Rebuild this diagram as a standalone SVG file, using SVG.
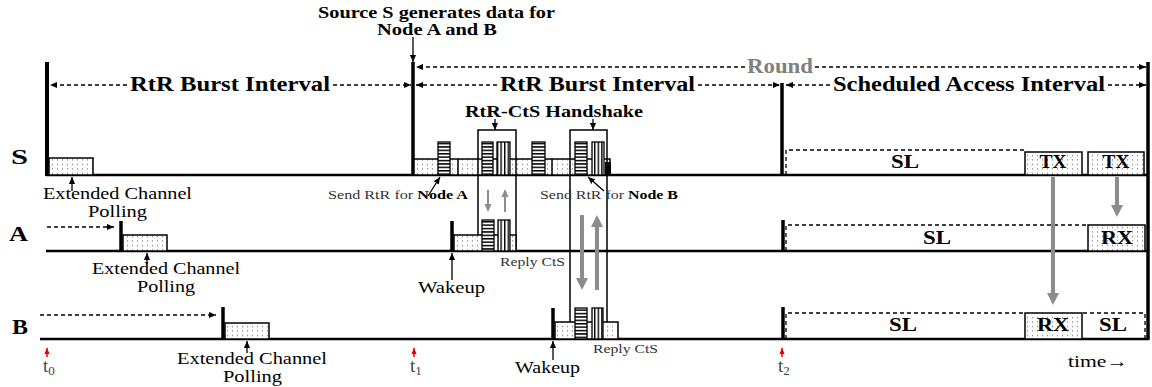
<svg xmlns="http://www.w3.org/2000/svg" width="1152" height="387" viewBox="0 0 1152 387">
<style>
text{font-family:"Liberation Serif","Times New Roman",serif;fill:#000}
.b{font-weight:bold}
.lbl{font-weight:bold;font-size:20px}
.big{font-weight:bold;font-size:20px}
.mid{font-size:17px}
.sm{font-size:13px;fill:#333}
.box{font-weight:bold;font-size:18px;text-anchor:middle}
.tt{font-size:19px;fill:#444}
.base{stroke:#000;stroke-width:2.5;fill:none}
.thick{stroke:#000;stroke-width:3.5;fill:none}
.dot{fill:url(#dots);stroke:#000;stroke-width:1.5}
.hs{fill:url(#hs);stroke:#000;stroke-width:1.3}
.vs{fill:url(#vs);stroke:#000;stroke-width:1.3}
.dash{stroke:#000;stroke-width:1.3;stroke-dasharray:4 3;fill:none}
.hb{stroke:#000;stroke-width:1.5;fill:none}
.ptr{stroke:#000;stroke-width:1.3;fill:none;marker-end:url(#ah)}
.iv{stroke:#000;stroke-width:1.3;stroke-dasharray:4 3;fill:none}
.red{stroke:#e00;stroke-width:1.5;fill:none;marker-end:url(#rh)}
.g1{stroke:#8c8c8c;stroke-width:2;fill:none;marker-end:url(#gs)}
.g2{stroke:#8c8c8c;stroke-width:4;fill:none;marker-end:url(#gb)}
</style>
<defs>
<pattern id="dots" width="5" height="4.5" patternUnits="userSpaceOnUse"><rect width="5" height="4.5" fill="#fff"/><rect x="2" y="2" width="1" height="1" fill="#555"/></pattern>
<pattern id="hs" width="4" height="3.4" patternUnits="userSpaceOnUse"><rect width="4" height="3.4" fill="#fff"/><rect width="4" height="1.5" fill="#000"/></pattern>
<pattern id="vs" width="3.6" height="4" patternUnits="userSpaceOnUse"><rect width="3.6" height="4" fill="#fff"/><rect width="1.4" height="4" fill="#000"/></pattern>
<marker id="ah" viewBox="0 0 8 8" refX="8" refY="4" markerWidth="7" markerHeight="7" markerUnits="userSpaceOnUse" orient="auto-start-reverse"><path d="M0,0.5 L8,4 L0,7.5 z" fill="#000"/></marker>
<marker id="rh" viewBox="0 0 8 8" refX="8" refY="4" markerWidth="6" markerHeight="6" markerUnits="userSpaceOnUse" orient="auto"><path d="M0,0.5 L8,4 L0,7.5 z" fill="#e00"/></marker>
<marker id="gs" viewBox="0 0 8 8" refX="1" refY="4" markerWidth="8" markerHeight="8" markerUnits="userSpaceOnUse" orient="auto"><path d="M0,0.5 L8,4 L0,7.5 z" fill="#8c8c8c"/></marker>
<marker id="gb" viewBox="0 0 12 12" refX="1" refY="6" markerWidth="12" markerHeight="12" markerUnits="userSpaceOnUse" orient="auto"><path d="M0,0 L12,6 L0,12 z" fill="#8c8c8c"/></marker>
</defs>
<rect width="1152" height="387" fill="#fff"/>

<g id="header">
<text class="b" x="318" y="18" font-size="17" textLength="237" lengthAdjust="spacingAndGlyphs">Source S generates data for</text>
<text class="b" x="377" y="35" font-size="17" textLength="120" lengthAdjust="spacingAndGlyphs">Node A and B</text>
<text class="big" x="130" y="91" textLength="200" lengthAdjust="spacingAndGlyphs">RtR Burst Interval</text>
<text class="big" x="500" y="91" textLength="195" lengthAdjust="spacingAndGlyphs">RtR Burst Interval</text>
<text class="big" x="747" y="73" style="fill:#808080" textLength="66" lengthAdjust="spacingAndGlyphs">Round</text>
<text class="big" x="833" y="91" textLength="272" lengthAdjust="spacingAndGlyphs">Scheduled Access Interval</text>
<text class="b" x="465" y="117" font-size="17" textLength="178" lengthAdjust="spacingAndGlyphs">RtR-CtS Handshake</text>
</g>

<g id="row-labels">
<text class="lbl" x="11" y="164" textLength="17" lengthAdjust="spacingAndGlyphs">S</text>
<text class="lbl" x="9" y="241" textLength="19" lengthAdjust="spacingAndGlyphs">A</text>
<text class="lbl" x="12" y="334" textLength="16" lengthAdjust="spacingAndGlyphs">B</text>
</g>

<g id="node-S">
<line class="base" x1="46" y1="175" x2="1149" y2="175"/>
<line x1="47" y1="62" x2="47" y2="176" stroke="#000" stroke-width="4"/>
<rect class="dot" x="49" y="158" width="44" height="17"/>
<line class="thick" x1="413" y1="62" x2="413" y2="175"/>
<rect class="dot" x="414" y="159" width="196" height="16"/>
<line class="hb" x1="458" y1="159" x2="458" y2="175"/>
<line class="hb" x1="552" y1="159" x2="552" y2="175"/>
<rect class="hs" x="438" y="142" width="12" height="33"/>
<rect class="hs" x="482" y="142" width="11" height="33"/>
<rect class="vs" x="497" y="142" width="13" height="33"/>
<rect class="hs" x="532" y="142" width="13" height="33"/>
<rect class="hs" x="575" y="142" width="12" height="33"/>
<rect class="vs" x="592" y="142" width="12" height="33"/>
<rect x="605" y="162" width="6" height="13" fill="#000"/>
<line class="thick" x1="782" y1="83" x2="782" y2="175"/>
<path class="dash" d="M786,175 V150 H1024"/>
<rect class="dot" x="1025" y="152" width="57" height="23" stroke-width="2.5"/>
<rect class="dot" x="1088" y="152" width="56" height="23" stroke-width="2"/>
<text class="box" x="905" y="168" textLength="28" lengthAdjust="spacingAndGlyphs">SL</text>
<text class="box" x="1053" y="168" textLength="27" lengthAdjust="spacingAndGlyphs">TX</text>
<text class="box" x="1116" y="168" textLength="27" lengthAdjust="spacingAndGlyphs">TX</text>
<line class="thick" x1="1148" y1="62" x2="1148" y2="340"/>
</g>

<g id="handshake-boxes">
<path class="hb" d="M478,251 V130 H516 V251"/>
<path class="hb" d="M570,339 V130 H607 V339"/>
</g>

<g id="node-A">
<line class="base" x1="46" y1="251" x2="1149" y2="251"/>
<line class="thick" x1="121" y1="221" x2="121" y2="251"/>
<rect class="dot" x="123" y="235" width="44" height="16"/>
<line class="thick" x1="452" y1="221" x2="452" y2="251"/>
<rect class="dot" x="454" y="235" width="62" height="16"/>
<rect class="hs" x="482" y="220" width="12" height="31"/>
<rect class="vs" x="498" y="220" width="12" height="31"/>
<line class="thick" x1="783" y1="220" x2="783" y2="251"/>
<path class="dash" d="M786,251 V225 H1088"/>
<rect class="dot" x="1088" y="225" width="57" height="26"/>
<text class="box" x="937" y="244" textLength="28" lengthAdjust="spacingAndGlyphs">SL</text>
<text class="box" x="1117" y="244" textLength="32" lengthAdjust="spacingAndGlyphs">RX</text>
</g>

<g id="node-B">
<line class="base" x1="40" y1="339" x2="1149" y2="339"/>
<line class="thick" x1="223" y1="307" x2="223" y2="339"/>
<rect class="dot" x="225" y="323" width="44" height="16"/>
<line class="thick" x1="553" y1="308" x2="553" y2="339"/>
<rect class="dot" x="555" y="322" width="63" height="17"/>
<rect class="hs" x="575" y="308" width="12" height="31"/>
<rect class="vs" x="592" y="308" width="11" height="31"/>
<line class="thick" x1="783" y1="307" x2="783" y2="339"/>
<path class="dash" d="M786,339 V313 H1025"/>
<rect class="dot" x="1025" y="313" width="57" height="26" stroke-width="2.5"/>
<path class="dash" d="M1083,313 H1145 V339"/>
<text class="box" x="903" y="331" textLength="28" lengthAdjust="spacingAndGlyphs">SL</text>
<text class="box" x="1053" y="331" textLength="32" lengthAdjust="spacingAndGlyphs">RX</text>
<text class="box" x="1113" y="331" textLength="28" lengthAdjust="spacingAndGlyphs">SL</text>
</g>

<g id="annotations">
<text class="mid" x="43" y="199" textLength="149" lengthAdjust="spacingAndGlyphs">Extended Channel</text>
<text class="mid" x="88" y="217" textLength="59" lengthAdjust="spacingAndGlyphs">Polling</text>
<text class="mid" x="92" y="274" textLength="148" lengthAdjust="spacingAndGlyphs">Extended Channel</text>
<text class="mid" x="137" y="292" textLength="58" lengthAdjust="spacingAndGlyphs">Polling</text>
<text class="mid" x="177" y="364" textLength="150" lengthAdjust="spacingAndGlyphs">Extended Channel</text>
<text class="mid" x="223" y="382" textLength="59" lengthAdjust="spacingAndGlyphs">Polling</text>
<text class="sm" x="328" y="199" textLength="140" lengthAdjust="spacingAndGlyphs">Send RtR for <tspan font-weight="bold" fill="#000">Node A</tspan></text>
<text class="sm" x="540" y="199" textLength="138" lengthAdjust="spacingAndGlyphs">Send RtR for <tspan font-weight="bold" fill="#000">Node B</tspan></text>
<text class="sm" x="500" y="266" textLength="65" lengthAdjust="spacingAndGlyphs">Reply CtS</text>
<text class="sm" x="593" y="353" textLength="65" lengthAdjust="spacingAndGlyphs">Reply CtS</text>
<text class="mid" x="418" y="293" textLength="67" lengthAdjust="spacingAndGlyphs">Wakeup</text>
<text class="mid" x="515" y="373" textLength="65" lengthAdjust="spacingAndGlyphs">Wakeup</text>
<text class="tt" x="43" y="372">t<tspan font-size="13" dy="3">0</tspan></text>
<text class="tt" x="410" y="372">t<tspan font-size="13" dy="3">1</tspan></text>
<text class="tt" x="778" y="372">t<tspan font-size="13" dy="3">2</tspan></text>
<text class="mid" x="1068" y="367" textLength="60" lengthAdjust="spacingAndGlyphs">time→</text>
</g>

<g id="connectors">
<line class="iv" x1="127" y1="85" x2="50" y2="85" marker-end="url(#ah)"/>
<line class="iv" x1="333" y1="85" x2="411" y2="85" marker-end="url(#ah)"/>
<line class="iv" x1="497" y1="85" x2="416" y2="85" marker-end="url(#ah)"/>
<line class="iv" x1="698" y1="85" x2="780" y2="85" marker-end="url(#ah)"/>
<line class="iv" x1="830" y1="85" x2="786" y2="85" marker-end="url(#ah)"/>
<line class="iv" x1="1108" y1="85" x2="1146" y2="85" marker-end="url(#ah)"/>
<line class="iv" x1="745" y1="67" x2="416" y2="67" marker-end="url(#ah)"/>
<line class="iv" x1="815" y1="67" x2="1146" y2="67" marker-end="url(#ah)"/>
<line class="iv" x1="47" y1="227" x2="114" y2="227" marker-end="url(#ah)"/>
<line class="iv" x1="40" y1="315" x2="216" y2="315" marker-end="url(#ah)"/>
<line class="ptr" x1="413" y1="37" x2="413" y2="62"/>
<line class="ptr" x1="495" y1="119" x2="495" y2="130"/>
<line class="ptr" x1="593" y1="119" x2="593" y2="130"/>
<line class="ptr" x1="72" y1="191" x2="72" y2="177"/>
<line class="ptr" x1="147" y1="264" x2="147" y2="253"/>
<line class="ptr" x1="247" y1="353" x2="247" y2="341"/>
<line class="ptr" x1="452" y1="280" x2="452" y2="253"/>
<line class="ptr" x1="553" y1="360" x2="553" y2="341"/>
<line class="ptr" x1="428" y1="196" x2="440" y2="177"/>
<line class="ptr" x1="604" y1="191" x2="588" y2="177"/>
<line class="red" x1="47" y1="357" x2="47" y2="348"/>
<line class="red" x1="414" y1="357" x2="414" y2="348"/>
<line class="red" x1="782" y1="357" x2="782" y2="348"/>
<line class="g1" x1="488" y1="190" x2="488" y2="205"/>
<line class="g1" x1="505" y1="212" x2="505" y2="196"/>
<line class="g2" x1="582" y1="215" x2="582" y2="279"/>
<line class="g2" x1="597" y1="290" x2="597" y2="226"/>
<line class="g2" x1="1053" y1="177" x2="1053" y2="294"/>
<line class="g2" x1="1117" y1="177" x2="1117" y2="206"/>
</g>
</svg>
